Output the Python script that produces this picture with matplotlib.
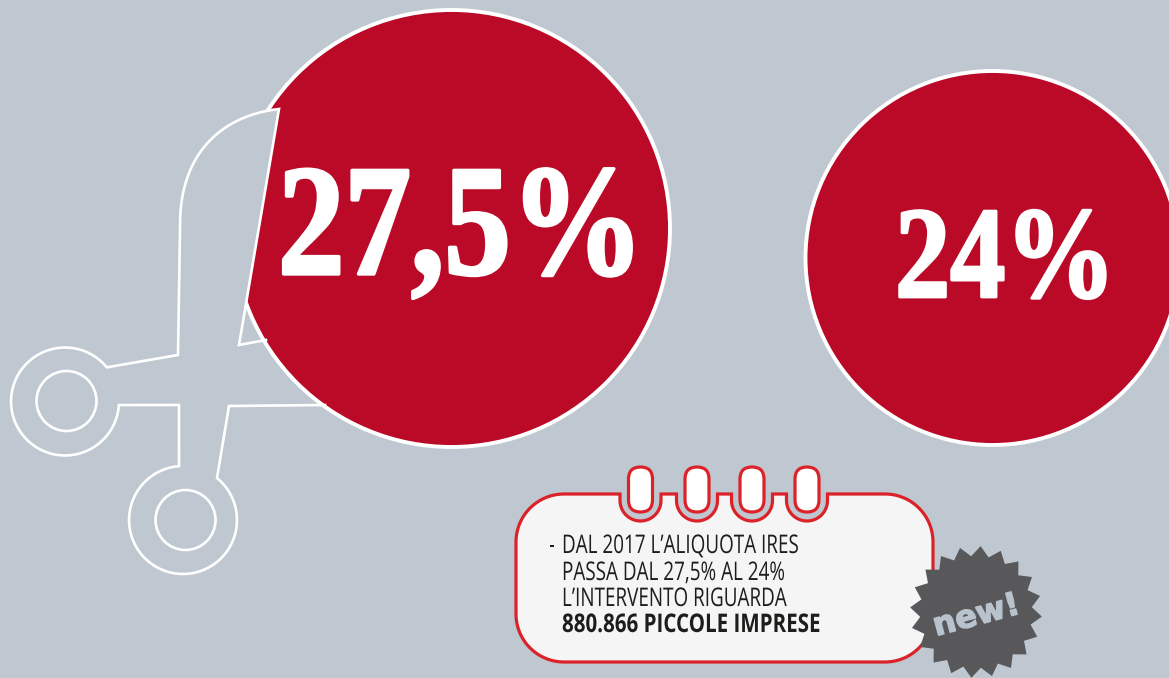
import numpy as np
import matplotlib
matplotlib.use("Agg")
import matplotlib.pyplot as plt
from matplotlib.patches import Circle, FancyBboxPatch, Polygon
from matplotlib.patheffects import AbstractPathEffect
from matplotlib.transforms import Affine2D

# ---- data ----
rates = [27.5, 24]
rate_labels = ["27,5%", "24%"]
note_lines = ["DAL 2017 L\u2019ALIQUOTA IRES", "PASSA DAL 27,5% AL 24%", "L\u2019INTERVENTO RIGUARDA"]
note_bold = "880.866 PICCOLE IMPRESE"
badge_text = "new!"

BG = "#bfc8d0"
RED = "#bb0a27"
CARD_RED = "#dc2229"
CARD = "#f5f5f5"
DARK = "#1d1d1b"
BADGE = "#58585a"


class Squeeze(AbstractPathEffect):
    """Draws text narrower (and optionally fattened) while it stays real text."""
    def __init__(self, sx=1.0, grow=0.0):
        super().__init__()
        self.sx, self.grow = sx, grow

    def draw_path(self, renderer, gc, tpath, affine, rgbFace=None):
        g = renderer.new_gc()
        g.copy_properties(gc)
        g.set_linewidth(self.grow)
        if rgbFace is not None:
            g.set_foreground(rgbFace[:3])
        g.set_joinstyle("round")
        renderer.draw_path(g, tpath, Affine2D().scale(self.sx, 1) + affine, rgbFace)
        g.restore()


def arc(cx, cy, r, a0, a1, n=60):
    t = np.radians(np.linspace(a0, a1, n))
    return np.c_[cx + r * np.cos(t), cy + r * np.sin(t)]


def ang(cx, cy, x, y):
    return np.degrees(np.arctan2(y - cy, x - cx))


fig = plt.figure(figsize=(11.69, 6.78), dpi=100, facecolor=BG)
ax = fig.add_axes([0, 0, 1, 1])
ax.set_xlim(0, 1169)
ax.set_ylim(678, 0)
ax.axis("off")

# ---- circles, radius follows the rate ----
centres = [(451.5, 228.5), (992.5, 258)]
for (cx, cy), v in zip(centres, rates):
    ax.add_patch(Circle((cx, cy), 9.0 * v - 29, fc=RED, ec="white", lw=2.8, zorder=1))

# ---- scissors ----
r1 = (65, 401.5, 54)
r2 = (183, 520, 54)
blade = np.array([[279, 109], [225, 115], [180, 150], [180, 225]])
bez = np.array([(1 - t) ** 3 * blade[0] + 3 * (1 - t) ** 2 * t * blade[1]
                + 3 * (1 - t) * t ** 2 * blade[2] + t ** 3 * blade[3]
                for t in np.linspace(0, 1, 50)])
fill = np.vstack([bez, [[178, 355], [239, 345]]])
ax.add_patch(Polygon(fill, closed=True, fc=BG, ec="none", zorder=2))

a2s = ang(r2[0], r2[1], 217, 478)
a2e = ang(r2[0], r2[1], 179, 466)
ring2 = arc(*r2, a2s, a2e + 360 if a2e < a2s else a2e)
a1s = ang(r1[0], r1[1], 118, 405)
a1e = ang(r1[0], r1[1], 106, 368) + 360
ring1 = arc(*r1, a1s, a1e)
outline = np.vstack([
    [[325, 405], [229, 406]],
    ring2,
    [[179, 405]],
    ring1,
    [[178, 355]],
    bez[::-1],
    [[239, 345], [266, 340]],
])
ax.plot(outline[:, 0], outline[:, 1], color="white", lw=1.9, zorder=3, solid_joinstyle="miter")
for cx, cy in [(66.5, 401), (185.5, 520)]:
    ax.add_patch(Circle((cx, cy), 30, fc="none", ec="white", lw=1.9, zorder=3))

# ---- big labels ----
ax.text(278, 274, rate_labels[0], color="white", fontsize=114, family="Liberation Serif",
        weight="bold", va="baseline", ha="left", zorder=4,
        path_effects=[Squeeze(0.84, 2.4)])
ax.text(895, 297, rate_labels[1], color="white", fontsize=94, family="Liberation Serif",
        weight="bold", va="baseline", ha="left", zorder=4,
        path_effects=[Squeeze(0.845, 2.0)])

# ---- card ----
L, R, T, B, C = 516, 933, 494, 662, 48
notch_x = [640.5, 697, 752, 807]
pts = [[L + C, T]]
for nx in notch_x:
    pts.append([nx - 20.5, T])
    pts.extend(arc(nx, 500.5, 20.5, 180, 0, 30))
    pts.append([nx + 20.5, T])
pts.extend(arc(R - C, T + C, C, -90, 0, 30))
pts.extend(arc(R - C, B - C, C, 0, 90, 30))
pts.extend(arc(L + C, B - C, C, 90, 180, 30))
pts.extend(arc(L + C, T + C, C, 180, 270, 30))
ax.add_patch(Polygon(np.array(pts), closed=True, fc=CARD, ec=CARD_RED, lw=2.3, zorder=5))
for nx in notch_x:
    ax.add_patch(FancyBboxPatch((nx - 12, 467), 24, 45,
                                boxstyle="round,pad=0,rounding_size=12",
                                fc="white", ec=CARD_RED, lw=2.3, zorder=6))

# ---- note text ----
note_y = [553, 580, 606]
NOTE = dict(family="Open Sans", fontsize=18.5, va="baseline", ha="left", zorder=7, color=DARK)
ax.text(549, note_y[0], "-", path_effects=[Squeeze(0.72)], **NOTE)
for y, s in zip(note_y, note_lines):
    ax.text(562, y, s, path_effects=[Squeeze(0.735)], **NOTE)
ax.text(562, 632, note_bold, weight="bold", path_effects=[Squeeze(0.8)], **NOTE)

# ---- badge ----
sc, sy = 976, 612
teeth = 20
angles = np.linspace(0, 360, 2 * teeth, endpoint=False) + 4
radii = np.where(np.arange(2 * teeth) % 2 == 0, 66, 56)
star = np.c_[sc + radii * np.cos(np.radians(angles)), sy + radii * np.sin(np.radians(angles))]
ax.add_patch(Polygon(star, closed=True, fc=BADGE, ec="none", zorder=8))
ax.text(936, 636, badge_text, color="#b8c3cd", family="DejaVu Sans", weight="bold", fontsize=23,
        rotation=15, rotation_mode="anchor", ha="left", va="baseline", zorder=9,
        path_effects=[Squeeze(1.0, 1.0)])

fig.savefig("out.png", dpi=100, facecolor=BG)
